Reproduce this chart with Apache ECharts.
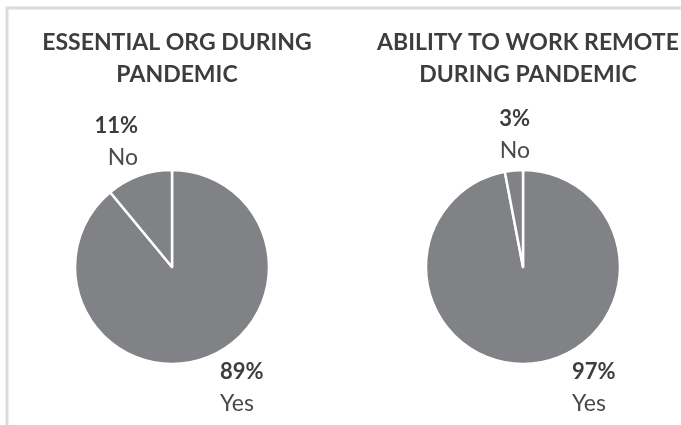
<!DOCTYPE html>
<html>
<head>
<meta charset="utf-8">
<script src="https://cdn.jsdelivr.net/npm/echarts@6/dist/echarts.min.js"></script>
<style>
  html, body { margin: 0; padding: 0; background: #fff; }
  #chart { width: 681px; height: 425px; }
</style>
</head>
<body>
<div id="chart"></div>
<script>
const categories = ['Yes', 'No']
const essentialValues = [89, 11]
const remoteValues = [97, 3]
const titles = ['ESSENTIAL ORG DURING\nPANDEMIC', 'ABILITY TO WORK REMOTE\nDURING PANDEMIC']

const font = 'Lato'
const grey = '#808285'
const textColor = '#3d3d3d'

// label anchor spots for each pie: [No, Yes]
const labelSpots = [
  [{ x: 138, y: 142, align: 'right' }, { x: 220, y: 388, align: 'left' }],
  [{ x: 530, y: 135, align: 'right' }, { x: 572, y: 388, align: 'left' }]
]

function makePie(values, center, idx) {
  return {
    type: 'pie',
    center: center,
    radius: 97,
    startAngle: 90,
    clockwise: true,
    avoidLabelOverlap: false,
    silent: true,
    itemStyle: {
      color: grey,
      borderColor: '#fff',
      borderWidth: 2.5
    },
    label: {
      show: true,
      position: 'outside',
      formatter: p => '{p|' + p.value + '%}\n{n|' + p.name + '}',
      rich: {
        p: { fontFamily: font, fontSize: 22, fontWeight: 'bold', color: textColor, lineHeight: 32 },
        n: { fontFamily: font, fontSize: 23, fontWeight: 'normal', color: '#4a4a4a', lineHeight: 32 }
      }
    },
    labelLine: { show: false },
    labelLayout: params => {
      const s = labelSpots[idx][params.dataIndex === 1 ? 0 : 1]
      return { x: s.x, y: s.y, align: s.align, verticalAlign: 'middle' }
    },
    data: categories.map((c, i) => ({ name: c, value: values[i] }))
  }
}

function makeTitle(text, x) {
  return {
    text: text,
    left: x,
    top: 22,
    textAlign: 'center',
    textStyle: {
      fontFamily: font,
      fontSize: 23,
      fontWeight: 'bold',
      color: textColor,
      lineHeight: 32,
      align: 'center'
    }
  }
}

const chart = echarts.init(document.getElementById('chart'))
chart.setOption({
  animation: false,
  title: [makeTitle(titles[0], 172), makeTitle(titles[1], 523)],
  graphic: [
    {
      type: 'polyline',
      shape: { points: [[7, 425], [7, 8], [681, 8]] },
      style: { stroke: '#dcdcdc', lineWidth: 3, fill: null }
    }
  ],
  series: [
    makePie(essentialValues, [172, 267], 0),
    makePie(remoteValues, [523, 267], 1)
  ]
})
</script>
</body>
</html>
